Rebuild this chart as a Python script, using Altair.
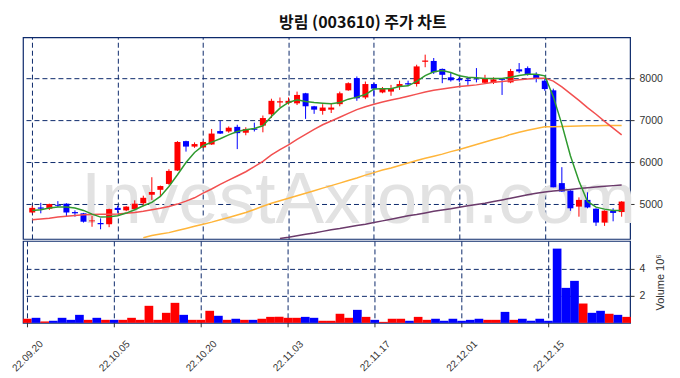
import altair as alt
import pandas as pd

# ---------------- data ----------------
dates = ["22.09.20", "22.09.21", "22.09.22", "22.09.23", "22.09.26", "22.09.27", "22.09.28", "22.09.29", "22.09.30",
         "22.10.04", "22.10.05", "22.10.06", "22.10.07", "22.10.11", "22.10.12", "22.10.13", "22.10.14", "22.10.17",
         "22.10.18", "22.10.19", "22.10.20", "22.10.21", "22.10.24", "22.10.25", "22.10.26", "22.10.27", "22.10.28",
         "22.10.31", "22.11.01", "22.11.02", "22.11.03", "22.11.04", "22.11.07", "22.11.08", "22.11.09", "22.11.10",
         "22.11.11", "22.11.14", "22.11.15", "22.11.16", "22.11.17", "22.11.18", "22.11.21", "22.11.22", "22.11.23",
         "22.11.24", "22.11.25", "22.11.28", "22.11.29", "22.11.30", "22.12.01", "22.12.02", "22.12.05", "22.12.06",
         "22.12.07", "22.12.08", "22.12.09", "22.12.12", "22.12.13", "22.12.14", "22.12.15", "22.12.16", "22.12.19",
         "22.12.20", "22.12.21", "22.12.22", "22.12.23", "22.12.26", "22.12.27", "22.12.28"]

opens = [4800, 4920, 4890, 4980, 5010, 4810, 4780, 4590, 4550, 4520,
         4910, 4850, 4880, 5020, 5220, 5340, 5480, 5800, 6500, 6370,
         6350, 6420, 6740, 6730, 6840, 6700, 6800, 6870, 7140, 7420,
         7410, 7400, 7640, 7330, 7220, 7250, 7380, 7710, 8000, 7540,
         7860, 7660, 7680, 7790, 7880, 7860, 8390, 8410, 8220, 8020,
         7980, 7960, 7970, 7890, 7890, 7980, 7900, 8210, 8240, 8100,
         7940, 7710, 5500, 5320, 4940, 5100, 4890, 4560, 4840, 4810]
highs = [4960, 5030, 5010, 5070, 5020, 4850, 4790, 4720, 4660, 4890,
         4960, 4950, 5090, 5200, 5640, 5440, 5830, 6500, 6510, 6470,
         6500, 6790, 6980, 6850, 6890, 6830, 6940, 7110, 7510, 7540,
         7540, 7680, 7650, 7340, 7380, 7400, 7680, 7900, 8040, 7920,
         7900, 7790, 7840, 7940, 7940, 8320, 8560, 8480, 8230, 8130,
         8040, 8000, 8240, 8080, 8020, 7990, 8220, 8360, 8280, 8140,
         7980, 7750, 5880, 5330, 5160, 5280, 4900, 4850, 4900, 5070]
lows = [4780, 4780, 4860, 4930, 4700, 4700, 4560, 4460, 4400, 4450,
        4790, 4830, 4870, 4950, 5100, 5190, 5460, 5790, 6250, 6340,
        6340, 6410, 6670, 6700, 6310, 6640, 6730, 6710, 7050, 7310,
        7370, 7360, 7030, 7150, 7130, 7170, 7330, 7700, 7460, 7500,
        7560, 7640, 7580, 7720, 7820, 7800, 8260, 8100, 7880, 7920,
        7910, 7840, 7900, 7870, 7860, 7600, 7880, 8120, 8060, 7900,
        7700, 5400, 5290, 4840, 4700, 4900, 4480, 4480, 4590, 4700]
closes = [4910, 4890, 5000, 4960, 4800, 4780, 4580, 4610, 4520, 4880,
          4860, 4940, 5010, 5150, 5290, 5430, 5790, 6480, 6370, 6430,
          6480, 6680, 6680, 6820, 6690, 6790, 6770, 7050, 7460, 7450,
          7460, 7600, 7330, 7250, 7300, 7300, 7640, 7880, 7520, 7860,
          7750, 7760, 7760, 7860, 7850, 8280, 8420, 8140, 8080, 7950,
          7950, 7930, 7960, 7980, 7970, 7960, 8170, 8160, 8100, 8000,
          7740, 5400, 5300, 4900, 5100, 4920, 4560, 4840, 4790, 5060]
volumes = [0.30, 0.37, 0.10, 0.15, 0.37, 0.22, 0.59, 0.22, 0.37, 0.22,
           0.22, 0.22, 0.37, 0.22, 1.26, 0.22, 0.74, 1.48, 0.59, 0.22,
           0.22, 0.89, 0.52, 0.22, 0.30, 0.22, 0.22, 0.30, 0.44, 0.44,
           0.37, 0.37, 0.44, 0.37, 0.15, 0.15, 0.67, 0.37, 0.96, 0.44,
           0.22, 0.07, 0.30, 0.30, 0.15, 0.44, 0.22, 0.30, 0.15, 0.30,
           0.15, 0.22, 0.30, 0.22, 0.22, 0.81, 0.22, 0.30, 0.15, 0.30,
           0.15, 5.50, 2.59, 3.11, 1.43, 0.74, 0.89, 0.67, 0.59, 0.44]  # millions

ma5 = [4849, 4865, 4905, 4929, 4929, 4905, 4849, 4762, 4690, 4698,
       4722, 4786, 4865, 4960, 5040, 5183, 5421, 5699, 5992, 6231,
       6390, 6477, 6556, 6650, 6730, 6770, 6800, 6865, 7087, 7286,
       7421, 7484, 7445, 7421, 7405, 7389, 7421, 7500, 7548, 7610,
       7740, 7746, 7746, 7802, 7818, 7921, 8060, 8151, 8183, 8135,
       8056, 8024, 8008, 7992, 7992, 7992, 8024, 8064, 8095, 8095,
       8056, 7560, 6900, 6150, 5550, 5063, 4928, 4880, 4849, 4849]
ma20 = [4627, 4645, 4665, 4690, 4710, 4730, 4745, 4754, 4758, 4760,
        4765, 4782, 4802, 4830, 4865, 4900, 4944, 5000, 5070, 5150,
        5260, 5360, 5470, 5570, 5670, 5770, 5890, 6020, 6170, 6300,
        6410, 6540, 6660, 6780, 6890, 6980, 7070, 7160, 7250, 7320,
        7380, 7430, 7480, 7520, 7570, 7620, 7670, 7710, 7740, 7770,
        7800, 7820, 7840, 7870, 7900, 7920, 7940, 7960, 7980, 7995,
        8000, 7930, 7790, 7630, 7470, 7300, 7140, 6970, 6810, 6650]
ma60 = [None] * 13 + [
        4200, 4250, 4290, 4320, 4370, 4420, 4470,
        4520, 4570, 4625, 4680, 4740, 4800, 4870, 4950, 5020, 5080,
        5140, 5200, 5260, 5320, 5380, 5440, 5500, 5560, 5620, 5690,
        5750, 5810, 5860, 5920, 5980, 6040, 6090, 6140, 6190, 6250,
        6300, 6360, 6420, 6480, 6540, 6590, 6660, 6710, 6760, 6800,
        6840, 6845, 6850, 6855, 6860, 6865, 6865, 6870, 6870, 6875]
ma120 = [None] * 29 + [
         4180,
         4210, 4245, 4280, 4310, 4350, 4390, 4420, 4455, 4490, 4520,
         4560, 4600, 4640, 4680, 4720, 4750, 4790, 4830, 4860, 4890,
         4925, 4960, 4990, 5020, 5060, 5100, 5140, 5180, 5220, 5260,
         5290, 5310, 5330, 5350, 5370, 5390, 5410, 5425, 5440, 5455]

tick_idx = [0, 10, 20, 30, 40, 50, 60]
price_ticks = [5000, 6000, 7000, 8000]
vol_ticks = [2, 4]
title_text = "방림 (003610) 주가 차트"
watermark = "InvestAxiom.com"

# ---------------- table ----------------
df = pd.DataFrame({
    "i": list(range(len(dates))),
    "date": dates,
    "open": opens, "high": highs, "low": lows, "close": closes,
    "volume": volumes,
    "ma5": ma5, "ma20": ma20, "ma60": ma60, "ma120": ma120,
})
df["dir"] = ["up" if c >= o else "down" for o, c in zip(opens, closes)]

NAVY = "#0d2a6b"
LABEL = "#333333"
FONT = "Liberation Sans"

color = alt.Color("dir:N", scale=alt.Scale(domain=["up", "down"], range=["#ff0000", "#0000ff"]), legend=None)
xs = alt.Scale(domain=[-0.5, 69.4], nice=False, zero=False)
ys = alt.Scale(domain=[4170, 8975], nice=False, zero=False)

x_top_axis = alt.Axis(orient="top", values=tick_idx, labels=False, ticks=False, domain=False, grid=True,
                      gridDash=[5, 3], gridColor=NAVY, gridOpacity=1, title=None,
                      minExtent=0, maxExtent=0, labelPadding=0, tickSize=0)
y_price_axis = alt.Axis(orient="right", values=price_ticks, format="d", grid=True, gridDash=[5, 3],
                        gridColor=NAVY, gridOpacity=1, domain=False, tickSize=4, tickColor=LABEL,
                        labelColor=LABEL, labelFont=FONT, labelFontSize=10.5, labelPadding=5, title=None)

def X():
    return alt.X("i:Q", scale=xs, axis=x_top_axis)

base = alt.Chart(df)

wm = alt.Chart(pd.DataFrame({"t": [watermark]})).mark_text(
    font="Liberation Sans", fontSize=73, color="#e2e2e2", align="center", baseline="alphabetic"
).encode(text="t:N", x=alt.value(336), y=alt.value(186))

wick = base.mark_rule(strokeWidth=1).encode(
    x=X(), y=alt.Y("low:Q", scale=ys, axis=y_price_axis), y2="high:Q", color=color)
body = base.mark_bar(size=6).encode(
    x=X(), y=alt.Y("open:Q", scale=ys, axis=y_price_axis), y2="close:Q", color=color)

def ma_line(field, col, width=1.5):
    return base.mark_line(color=col, strokeWidth=width, clip=True).encode(
        x=X(), y=alt.Y(f"{field}:Q", scale=ys, axis=y_price_axis))

price = alt.layer(
    wm, wick, body,
    ma_line("ma120", "#6b3a6b"),
    ma_line("ma60", "#ffb53a"),
    ma_line("ma20", "#f25050"),
    ma_line("ma5", "#2f9a2f"),
).properties(width=608, height=202)

x_bottom_axis = alt.Axis(values=tick_idx, labelExpr="%s[datum.value]" % str(dates).replace(" ", ""),
                         grid=True, gridDash=[5, 3], gridColor=NAVY, gridOpacity=1, domain=False,
                         tickSize=4, tickColor=LABEL, labelColor=LABEL, labelFont=FONT, labelFontSize=10,
                         labelAngle=315, labelAlign="center", labelBaseline="middle", labelPadding=29,
                         title=None)
vol = base.transform_calculate(
    x0="datum.i - 0.5", x1="datum.i + 0.5", vm="datum.volume * 1000000", v0="0"
).mark_bar().encode(
    x=alt.X("x0:Q", scale=xs, axis=x_bottom_axis),
    x2="x1:Q",
    y=alt.Y("vm:Q", scale=alt.Scale(domain=[0, 6.07e6], nice=False),
            axis=alt.Axis(orient="right", values=[v * 1e6 for v in vol_ticks], labelExpr="datum.value / 1000000",
                          grid=True, gridDash=[5, 3], gridColor=NAVY, gridOpacity=1, domain=False,
                          tickSize=4, tickColor=LABEL, labelColor=LABEL, labelFont=FONT, labelFontSize=10.5,
                          labelPadding=5, title="Volume  10⁶", titleAngle=270, titleBaseline="top",
                          titleFont=FONT, titleFontSize=11, titleFontWeight="normal", titleColor=LABEL,
                          titlePadding=10)),
    y2="v0:Q",
    color=color,
).properties(width=608, height=82)

chart = alt.vconcat(price, vol, spacing=0).properties(
    title=alt.TitleParams(title_text, font="Noto Sans CJK KR", fontSize=16, fontWeight="bold",
                          color="#111111", anchor="middle", offset=6, dx=25),
    padding={"left": 1, "top": 6, "right": 5, "bottom": 5},
).configure_view(stroke=NAVY, strokeWidth=1.2, fill="white")

chart.save("out.html", embed_options={"renderer": "svg", "actions": False})
